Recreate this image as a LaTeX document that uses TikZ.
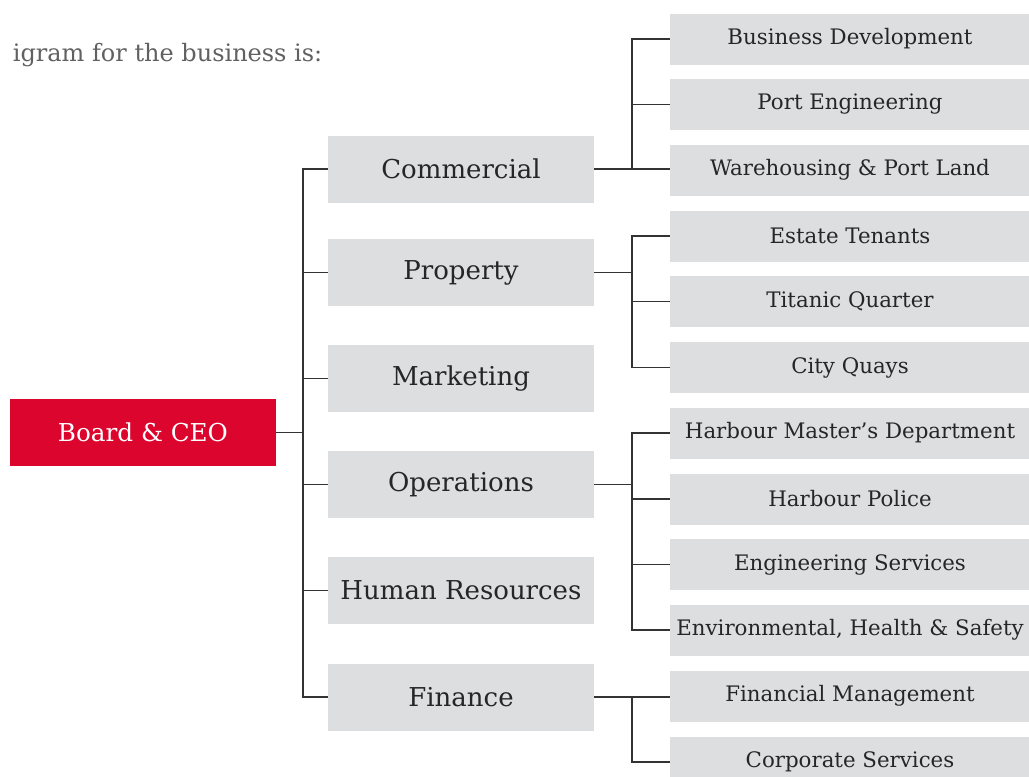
\documentclass[tikz,border=0pt]{standalone}
\usepackage{fontspec}
\setmainfont{DejaVu Serif}
\usetikzlibrary{calc}

\definecolor{boardred}{HTML}{DC052D}
\definecolor{boxgrey}{HTML}{DDDEE0}
\definecolor{inkgrey}{HTML}{262626}
\definecolor{linegrey}{HTML}{333333}

\tikzset{
  head/.style={fill=boardred, text=white, minimum width=199.5pt, minimum height=50.25pt,
    inner sep=0pt, font=\fontsize{18.5}{21}\selectfont},
  dept/.style={fill=boxgrey, text=inkgrey, minimum width=199.5pt, minimum height=50.25pt,
    inner sep=0pt, font=\fontsize{19.5}{22}\selectfont},
  unit/.style={fill=boxgrey, text=inkgrey, minimum width=270pt, minimum height=38.25pt,
    inner sep=0pt, font=\fontsize{16}{19}\selectfont},
  link/.style={draw=linegrey, line width=1pt}
}

\begin{document}
\begin{tikzpicture}[x=0.75pt, y=-0.75pt]
  %%%%% START %%%%%
  \useasboundingbox (0,0) rectangle (1029,776);
  \clip (0,0) rectangle (1029,776);

  \node[anchor=base east, text=black!62, font=\fontsize{18}{21}\selectfont] (intro) at (327,61)
    {igram for the business is:};

  % board
  \node[head] (ceo) at (143,432.5) {Board \& CEO};

  % departments
  \node[dept] (com)  at (461,169)   {Commercial};
  \node[dept] (prop) at (461,272.5) {Property};
  \node[dept] (mkt)  at (461,378.5) {Marketing};
  \node[dept] (ops)  at (461,484.5) {Operations};
  \node[dept] (hr)   at (461,590.5) {Human Resources};
  \node[dept] (fin)  at (461,697)   {Finance};

  % units
  \node[unit] (bizdev) at (850,39)    {Business Development};
  \node[unit] (porteng) at (850,104.5) {Port Engineering};
  \node[unit] (ware)   at (850,170)   {Warehousing \& Port Land};
  \node[unit] (estate) at (850,236)   {Estate Tenants};
  \node[unit] (titanic) at (850,301.5) {Titanic Quarter};
  \node[unit] (quays)  at (850,367.5) {City Quays};
  \node[unit] (master) at (850,433)   {Harbour Master’s Department};
  \node[unit] (police) at (850,499)   {Harbour Police};
  \node[unit] (engsvc) at (850,564.5) {Engineering Services};
  \node[unit] (ehs)    at (850,630)   {Environmental, Health \& Safety};
  \node[unit] (finman) at (850,696)   {Financial Management};
  \node[unit] (corp)   at (850,762)   {Corporate Services};

  \coordinate (trunk) at (303,0);
  \coordinate (sub) at (632,0);

  % board to departments
  \draw[link] (ceo.east) -- (ceo.east -| trunk);
  \draw[link] (com.west) -- (com.west -| trunk) -- (fin.west -| trunk) -- (fin.west);
  \draw[link] (prop.west -| trunk) -- (prop.west);
  \draw[link] (mkt.west -| trunk) -- (mkt.west);
  \draw[link] (ops.west -| trunk) -- (ops.west);
  \draw[link] (hr.west -| trunk) -- (hr.west);

  % commercial
  \draw[link] (com.east) -- (com.east -| ware.west);
  \draw[link] (bizdev.west) -- (bizdev.west -| sub) -- (com.east -| sub);
  \draw[link] (porteng.west -| sub) -- (porteng.west);

  % property
  \draw[link] (prop.east) -- (prop.east -| sub);
  \draw[link] (estate.west) -- (estate.west -| sub) -- (quays.west -| sub) -- (quays.west);
  \draw[link] (titanic.west -| sub) -- (titanic.west);

  % operations
  \draw[link] (ops.east) -- (ops.east -| sub);
  \draw[link] (master.west) -- (master.west -| sub) -- (ehs.west -| sub) -- (ehs.west);
  \draw[link] (police.west -| sub) -- (police.west);
  \draw[link] (engsvc.west -| sub) -- (engsvc.west);

  % finance
  \draw[link] (fin.east) -- (fin.east -| finman.west);
  \draw[link] (fin.east -| sub) -- (corp.west -| sub) -- (corp.west);
  %%%%% END %%%%%
\end{tikzpicture}
\end{document}
